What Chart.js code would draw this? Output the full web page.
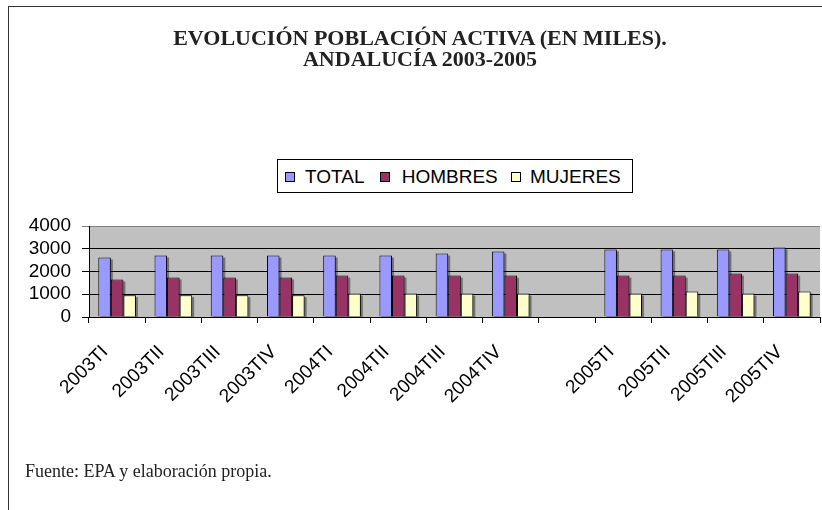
<!DOCTYPE html>
<html>
<head>
<meta charset="utf-8">
<script src="https://cdn.jsdelivr.net/npm/chart.js@4"></script>
<style>
  body { margin: 0; background: #fff; }
  #wrap { position: relative; width: 822px; height: 510px; overflow: hidden; }
  #frame { position: absolute; left: 8px; top: 6px; right: 0; bottom: -2px;
           border-top: 1.5px solid #333; border-left: 1.5px solid #333; }
  canvas { position: absolute; left: 0; top: 0; }
  #title { position: absolute; left: 120px; width: 600px; top: 28px; text-align: center;
           font: bold 22px/20.7px "Liberation Serif", serif; color: #222; }
  #legend { position: absolute; left: 277px; top: 159px; width: 354px; height: 32px;
            border: 1px solid #000; background: #fff; }
  #legend span { position: absolute; font: 19px/19px "Liberation Sans", sans-serif; color: #000; top: 7px; }
  #legend i { position: absolute; top: 12px; width: 8px; height: 8px; border: 1px solid #000; }
  #note { position: absolute; left: 25px; top: 461.6px; font: 18px/18px "Liberation Serif", serif; color: #222; }
</style>
</head>
<body>
<div id="wrap">
  <div id="frame"></div>
  <canvas id="chart" width="822" height="510"></canvas>
  <div id="title">EVOLUCIÓN POBLACIÓN ACTIVA (EN MILES).<br>ANDALUCÍA 2003-2005</div>
  <div id="legend">
    <i style="left:7px;background:#9999FF"></i><span style="left:27px">TOTAL</span>
    <i style="left:102px;background:#993366"></i><span style="left:123.7px">HOMBRES</span>
    <i style="left:233px;background:#FFFFCC"></i><span style="left:252px">MUJERES</span>
  </div>
  <div id="note">Fuente: EPA y elaboración propia.</div>
</div>
<script>
const quarters = ["2003TI", "2003TII", "2003TIII", "2003TIV", "2004TI", "2004TII", "2004TIII", "2004TIV",
                  "", "2005TI", "2005TII", "2005TIII", "2005TIV"];
const total   = [2620, 2700, 2700, 2700, 2700, 2700, 2790, 2880, null, 2970, 2970, 2970, 3060];
const hombres = [1650, 1740, 1740, 1740, 1820, 1820, 1820, 1820, null, 1820, 1820, 1910, 1910];
const mujeres = [960, 960, 960, 960, 1030, 1030, 1030, 1030, null, 1030, 1120, 1030, 1120];
const yTicks = [0, 1000, 2000, 3000, 4000];

const plotBack = {
    id: 'plotBack',
    beforeDraw(chart) {
        const a = chart.chartArea, ctx = chart.ctx;
        ctx.save();
        ctx.fillStyle = '#C0C0C0';
        ctx.fillRect(a.left, a.top, a.right - a.left, a.bottom - a.top);
        ctx.restore();
    },
    beforeDatasetsDraw(chart) {
        // soft shadow behind each bar, like the old spreadsheet look
        const a = chart.chartArea, ctx = chart.ctx;
        ctx.save();
        ctx.beginPath();
        ctx.rect(a.left, a.top, a.right - a.left, a.bottom - a.top);
        ctx.clip();
        ctx.fillStyle = 'rgba(0,0,0,0.4)';
        chart.data.datasets.forEach((ds, i) => {
            chart.getDatasetMeta(i).data.forEach(bar => {
                if (bar.skip) return;
                const w = bar.width;
                ctx.fillRect(bar.x - w / 2 + 2, bar.y + 2, w, bar.base - bar.y);
            });
        });
        ctx.restore();
    }
};

const font = { family: 'Liberation Sans', size: 19 };

new Chart(document.getElementById('chart'), {
    type: 'bar',
    data: {
        labels: quarters,
        datasets: [
            { label: 'TOTAL', data: total, backgroundColor: '#9999FF' },
            { label: 'HOMBRES', data: hombres, backgroundColor: '#993366' },
            { label: 'MUJERES', data: mujeres, backgroundColor: '#FFFFCC' }
        ]
    },
    options: {
        responsive: false,
        animation: false,
        devicePixelRatio: 1,
        layout: { padding: { top: 226, right: 2, left: 0, bottom: 0 } },
        datasets: {
            bar: { borderColor: '#000', borderWidth: 1, categoryPercentage: 0.67, barPercentage: 1.0 }
        },
        plugins: {
            legend: { display: false },
            tooltip: { enabled: false }
        },
        scales: {
            x: {
                afterFit: s => {
                    s.height = 193;
                    s.paddingLeft = 0;
                    s.paddingRight = 0;
                },
                grid: { offset: true, drawOnChartArea: false, tickLength: 6, color: '#000' },
                border: { color: '#000' },
                ticks: { font: font, color: '#000', maxRotation: 45, minRotation: 45, autoSkip: false, labelOffset: -12, padding: 18 }
            },
            y: {
                min: 0,
                max: 4000,
                afterFit: s => {
                    s.width = 89;
                    s.paddingTop = 0;
                    s.paddingBottom = 0;
                },
                afterBuildTicks: s => { s.ticks = yTicks.map(v => ({ value: v })); },
                grid: {
                    color: ctx => (ctx.tick && ctx.tick.value === 4000 ? '#808080' : '#000'),
                    tickLength: 7
                },
                border: { color: '#000' },
                ticks: { font: font, color: '#000', padding: 11, autoSkip: false, callback: v => String(v) }
            }
        }
    },
    plugins: [plotBack]
});
</script>
</body>
</html>
